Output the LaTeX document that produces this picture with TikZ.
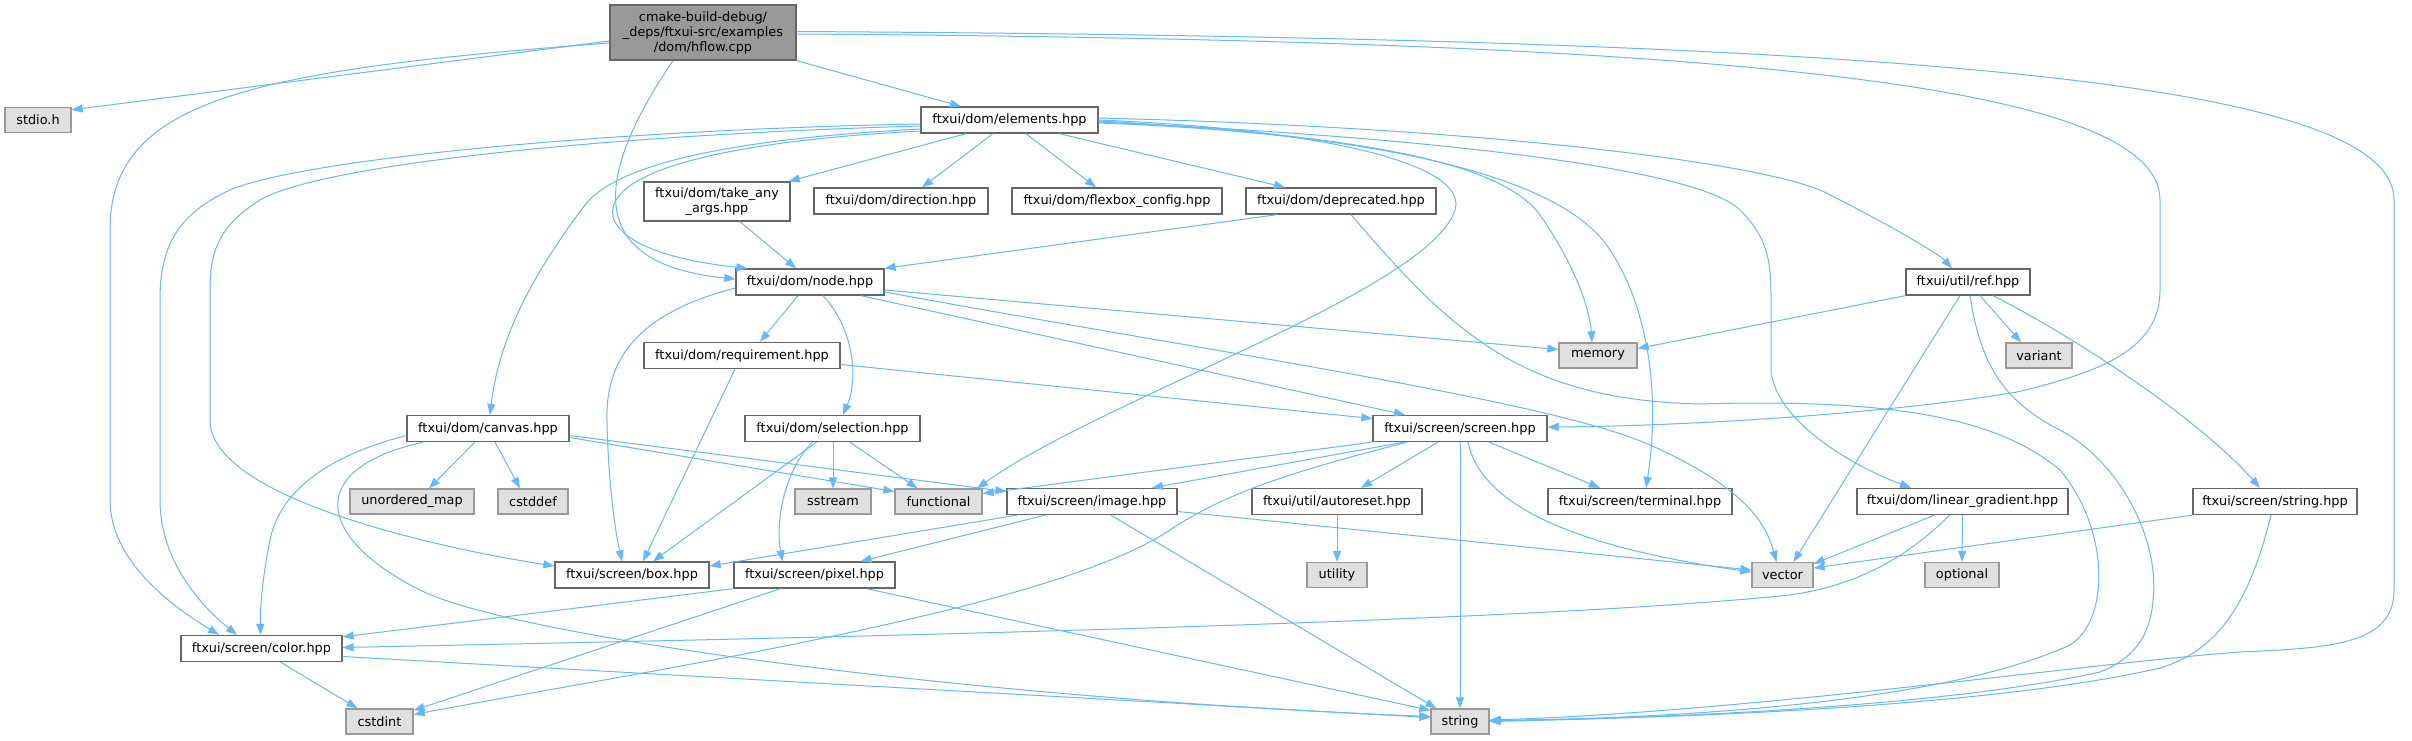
\documentclass[tikz,border=0pt]{standalone}
\usepackage{fontspec}
\setmainfont{DejaVu Sans}
\usetikzlibrary{arrows.meta}
\definecolor{edgec}{HTML}{63B8FF}
\definecolor{bwhite}{HTML}{666666}
\definecolor{bgray}{HTML}{999999}
\definecolor{fgray}{HTML}{E0E0E0}
\definecolor{fmain}{HTML}{999999}
\begin{document}
\begin{tikzpicture}[x=1pt,y=-1pt,
  every node/.style={font=\fontsize{12.85}{15}\selectfont, inner sep=0pt, align=center},
  wbox/.style={draw=bwhite, fill=white, line width=1.3pt, minimum height=26pt},
  gbox/.style={draw=bgray, fill=fgray, line width=1.3pt, minimum height=25pt},
  mainbox/.style={draw=bwhite, fill=fmain, line width=1.3pt, minimum height=55pt},
  edge/.style={draw=edgec, line width=1pt, -{Triangle[length=11pt,width=8pt]}}]
\fill[white] (0,0) rectangle (2412,740);
\useasboundingbox (0,0) rectangle (2412,740);

% nodes
\node[mainbox, minimum width=186pt] (hflow) at (703,32.5) {cmake-build-debug/\\\_deps/ftxui-src/examples\\/dom/hflow.cpp};
\node[gbox, minimum width=66pt] (stdio) at (38,120) {stdio.h};
\node[wbox, minimum width=177pt] (elements) at (1009.5,120) {ftxui/dom/elements.hpp};
\node[wbox, minimum width=146pt, minimum height=39pt] (takeany) at (717,201.5) {ftxui/dom/take\_any\\\_args.hpp};
\node[wbox, minimum width=174pt] (direction) at (901,201) {ftxui/dom/direction.hpp};
\node[wbox, minimum width=210pt] (flexbox) at (1117,201) {ftxui/dom/flexbox\_config.hpp};
\node[wbox, minimum width=190pt] (deprecated) at (1341,201) {ftxui/dom/deprecated.hpp};
\node[wbox, minimum width=148pt] (node) at (810,282) {ftxui/dom/node.hpp};
\node[wbox, minimum width=124pt] (ref) at (1968,282) {ftxui/util/ref.hpp};
\node[wbox, minimum width=196pt] (requirement) at (742,355.5) {ftxui/dom/requirement.hpp};
\node[gbox, minimum width=78pt] (memory) at (1598,355.5) {memory};
\node[gbox, minimum width=66pt] (variant) at (2039,355.5) {variant};
\node[wbox, minimum width=162pt] (canvas) at (488,428.5) {ftxui/dom/canvas.hpp};
\node[wbox, minimum width=175pt] (selection) at (832.5,428.5) {ftxui/dom/selection.hpp};
\node[wbox, minimum width=174pt] (screen) at (1460,428.5) {ftxui/screen/screen.hpp};
\node[gbox, minimum width=124pt] (umap) at (412,501.5) {unordered\_map};
\node[gbox, minimum width=70pt] (cstddef) at (533,501.5) {cstddef};
\node[gbox, minimum width=76pt] (sstream) at (833,501.5) {sstream};
\node[gbox, minimum width=87pt] (functional) at (938.5,501.5) {functional};
\node[wbox, minimum width=170pt] (image) at (1092,501.5) {ftxui/screen/image.hpp};
\node[wbox, minimum width=170pt] (autoreset) at (1337,501.5) {ftxui/util/autoreset.hpp};
\node[wbox, minimum width=184pt] (terminal) at (1640,501.5) {ftxui/screen/terminal.hpp};
\node[wbox, minimum width=211pt] (lingrad) at (1962.5,501.5) {ftxui/dom/linear\_gradient.hpp};
\node[wbox, minimum width=164pt] (strhpp) at (2275,501.5) {ftxui/screen/string.hpp};
\node[wbox, minimum width=154pt] (box) at (632,575) {ftxui/screen/box.hpp};
\node[wbox, minimum width=161pt] (pixel) at (814.5,575) {ftxui/screen/pixel.hpp};
\node[gbox, minimum width=60pt] (utility) at (1337,575) {utility};
\node[gbox, minimum width=61pt] (vector) at (1782.5,575) {vector};
\node[gbox, minimum width=74pt] (optional) at (1962,575) {optional};
\node[wbox, minimum width=161pt] (color) at (261.5,648.5) {ftxui/screen/color.hpp};
\node[gbox, minimum width=67pt] (cstdint) at (379.5,721.5) {cstdint};
\node[gbox, minimum width=58pt] (str) at (1460,721.5) {string};

% hflow.cpp
\draw[edge] ([yshift=-8.5pt]hflow.west) -- ([yshift=-3pt]stdio.north east);
\draw[edge] ([yshift=-10.5pt]hflow.west) .. controls (250,70) and (110,100) .. (110,230) -- (110,500) .. controls (110,560) and (170,605) .. ([xshift=-42.5pt]color.north);
\draw[edge] ([xshift=-30pt]hflow.south) .. controls (585,190) and (595,265) .. ([yshift=3pt]node.west);
\draw[edge] (hflow.south east) -- ([xshift=-48.5pt]elements.north);
\draw[edge] ([yshift=-1.5pt]hflow.east) .. controls (1700,40) and (2160,80) .. (2160,200) -- (2160,290) .. controls (2160,350) and (2100,372) .. (2017,392) .. controls (1900,412) and (1700,426) .. ([yshift=1.5pt]screen.east);
\draw[edge] ([yshift=1pt]hflow.east) .. controls (1900,38) and (2394,80) .. (2394,200) -- (2394,590) .. controls (2394,645) and (2330,648) .. (2240,652) .. controls (2100,662) and (1750,712) .. ([yshift=1.5pt]str.east);

% elements.hpp
\draw[edge] ([xshift=-43.5pt]elements.south) -- ([xshift=-2pt]takeany.north east);
\draw[edge] ([xshift=-16.5pt]elements.south) -- ([xshift=21pt]direction.north);
\draw[edge] ([xshift=16.5pt]elements.south) -- ([xshift=-21pt]flexbox.north);
\draw[edge] ([xshift=49.5pt]elements.south) -- ([xshift=-56pt]deprecated.north);
\draw[edge] ([yshift=-4pt]elements.west) .. controls (600,130) and (300,160) .. (230,190) .. controls (175,215) and (160,250) .. (160,300) -- (160,500) .. controls (160,560) and (200,605) .. ([xshift=-24.5pt]color.north);
\draw[edge] ([yshift=-6pt]elements.west) .. controls (600,135) and (320,165) .. (260,200) .. controls (220,225) and (210,250) .. (210,290) -- (210,420) .. controls (210,500) and (450,550) .. ([yshift=9pt]box.west);
\draw[edge] ([yshift=-9pt]elements.west) .. controls (750,138) and (620,160) .. (585,205) .. controls (540,265) and (500,330) .. ([xshift=2pt]canvas.north);
\draw[edge] ([yshift=-11pt]elements.west) .. controls (690,143) and (600,180) .. (614,220) .. controls (630,255) and (715,265) .. ([xshift=12pt]node.north west);
\draw[edge] (elements.east) .. controls (1300,128) and (1470,160) .. (1455,210) .. controls (1430,290) and (1100,400) .. ([xshift=38.5pt]functional.north);
\draw[edge] ([yshift=-1pt]elements.east) .. controls (1350,135) and (1500,160) .. (1540,215) .. controls (1575,265) and (1590,310) .. ([xshift=-6pt]memory.north);
\draw[edge] ([yshift=-3pt]elements.east) .. controls (1350,132) and (1560,170) .. (1610,250) .. controls (1650,310) and (1660,400) .. ([xshift=6pt]terminal.north);
\draw[edge] ([yshift=2pt]elements.east) .. controls (1500,128) and (1780,165) .. (1830,195) .. controls (1890,225) and (1940,255) .. ([xshift=-16pt]ref.north);
\draw[edge] ([yshift=-2pt]elements.east) .. controls (1450,138) and (1700,170) .. (1740,210) .. controls (1771,240) and (1771,270) .. (1771,300) -- (1771,370) .. controls (1775,420) and (1850,465) .. ([xshift=-51.5pt]lingrad.north);

% take_any, deprecated
\draw[edge] ([xshift=23pt]takeany.south) -- ([xshift=-14pt]node.north);
\draw[edge] ([xshift=-64pt]deprecated.south) -- (node.north east);
\draw[edge] ([xshift=10pt]deprecated.south) .. controls (1450,330) and (1520,400) .. (1700,404) .. controls (1900,398) and (2000,420) .. (2060,470) .. controls (2110,530) and (2110,620) .. (2070,645) .. controls (1950,700) and (1700,718) .. ([yshift=1pt]str.east);

% node.hpp
\draw[edge] ([xshift=-12pt]node.south) -- ([xshift=18pt]requirement.north);
\draw[edge] ([xshift=13pt]node.south) .. controls (855,330) and (858,380) .. ([xshift=10.5pt]selection.north);
\draw[edge] ([xshift=51pt]node.south) -- ([xshift=-55pt]screen.north);
\draw[edge] ([yshift=-6pt]node.west) .. controls (650,310) and (605,350) .. (607,420) .. controls (608,480) and (615,530) .. ([xshift=-10pt]box.north);
\draw[edge] ([yshift=-8pt]node.east) -- ([yshift=6pt]memory.west);
\draw[edge] ([yshift=-10pt]node.east) .. controls (1200,350) and (1550,400) .. (1650,445) .. controls (1740,485) and (1765,520) .. ([xshift=-6pt]vector.north);

% requirement.hpp
\draw[edge] ([yshift=-9pt]requirement.east) -- ([yshift=10pt]screen.west);
\draw[edge] ([xshift=-7pt]requirement.south) -- ([xshift=11pt]box.north);

% ref.hpp
\draw[edge] (ref.south west) -- ([yshift=7pt]memory.east);
\draw[edge] ([xshift=12pt]ref.south) -- ([xshift=-18pt]variant.north);
\draw[edge] ([xshift=-8pt]ref.south) -- ([xshift=11pt]vector.north);
\draw[edge] ([xshift=2pt]ref.south) .. controls (1980,360) and (2000,400) .. (2060,430) .. controls (2120,462) and (2160,540) .. (2153,600) .. controls (2150,640) and (2130,660) .. (2100,672) .. controls (1950,705) and (1700,717) .. (str.east);
\draw[edge] ([xshift=25pt]ref.south) .. controls (2080,340) and (2200,420) .. ([xshift=-15pt]strhpp.north);

% canvas.hpp
\draw[edge] ([yshift=-7pt]canvas.west) .. controls (330,455) and (280,490) .. (270,540) .. controls (262,580) and (260,610) .. ([xshift=-1pt]color.north);
\draw[edge] ([xshift=-65pt]canvas.south) .. controls (300,470) and (320,540) .. (420,590) .. controls (520,640) and (1000,700) .. ([yshift=5pt]str.west);
\draw[edge] ([xshift=-13pt]canvas.south) -- ([xshift=17pt]umap.north);
\draw[edge] ([xshift=7pt]canvas.south) -- ([xshift=-13pt]cstddef.north);
\draw[edge] ([yshift=-9pt]canvas.east) -- ([yshift=10pt]functional.west);
\draw[edge] ([yshift=-7pt]canvas.east) -- ([yshift=10pt]image.west);

% selection.hpp
\draw[edge] ([xshift=0.5pt]selection.south) -- (sstream.north);
\draw[edge] ([xshift=17.5pt]selection.south) -- ([xshift=-21pt]functional.north);
\draw[edge] ([xshift=-16pt]selection.south) -- ([xshift=21pt]box.north);
\draw[edge] ([xshift=-20pt]selection.south) .. controls (785,470) and (775,520) .. ([xshift=-32pt]pixel.north);

% screen.hpp
\draw[edge] (screen.south west) -- ([yshift=8pt]functional.east);
\draw[edge] ([xshift=-56pt]screen.south) -- ([xshift=60pt]image.north);
\draw[edge] ([xshift=-53pt]screen.south) .. controls (1300,470) and (1230,490) .. (1170,530) .. controls (1050,610) and (650,670) .. ([yshift=7pt]cstdint.east);
\draw[edge] ([xshift=-22pt]screen.south) -- ([xshift=24pt]autoreset.north);
\draw[edge] (screen.south) -- (str.north);
\draw[edge] ([xshift=29pt]screen.south) -- ([xshift=-40pt]terminal.north);
\draw[edge] ([xshift=8pt]screen.south) .. controls (1480,500) and (1560,545) .. ([yshift=3pt]vector.west);

% image.hpp
\draw[edge] ([xshift=-75pt]image.south) -- ([yshift=9pt]box.east);
\draw[edge] ([xshift=-47pt]image.south) -- ([xshift=46pt]pixel.north);
\draw[edge] ([xshift=19pt]image.south) -- ([xshift=6pt]str.north west);
\draw[edge] ([yshift=-10pt]image.east) -- ([yshift=5pt]vector.west);

% autoreset
\draw[edge] (autoreset.south) -- (utility.north);

% pixel.hpp
\draw[edge] (pixel.south west) -- ([yshift=-2pt]color.north east);
\draw[edge] ([xshift=-34pt]pixel.south) -- ([yshift=-2pt]cstdint.north east);
\draw[edge] ([xshift=52pt]pixel.south) -- ([yshift=-2pt]str.north west);

% color.hpp
\draw[edge] ([xshift=19pt]color.south) -- ([xshift=-22pt]cstdint.north);
\draw[edge] ([yshift=-8pt]color.east) -- ([yshift=4pt]str.west);

% linear_gradient
\draw[edge] ([xshift=-28pt]lingrad.south) -- ([yshift=-2pt]vector.north east);
\draw[edge] (lingrad.south) -- (optional.north);
\draw[edge] ([xshift=-13pt]lingrad.south) .. controls (1910,555) and (1860,585) .. (1790,595) .. controls (1500,625) and (700,640) .. ([yshift=1pt]color.east);

% string.hpp
\draw[edge] (strhpp.south west) -- ([yshift=7pt]vector.east);
\draw[edge] ([xshift=-4pt]strhpp.south) .. controls (2250,600) and (2220,650) .. (2160,668) .. controls (2000,705) and (1700,718) .. ([yshift=1pt]str.east);
\end{tikzpicture}
\end{document}
